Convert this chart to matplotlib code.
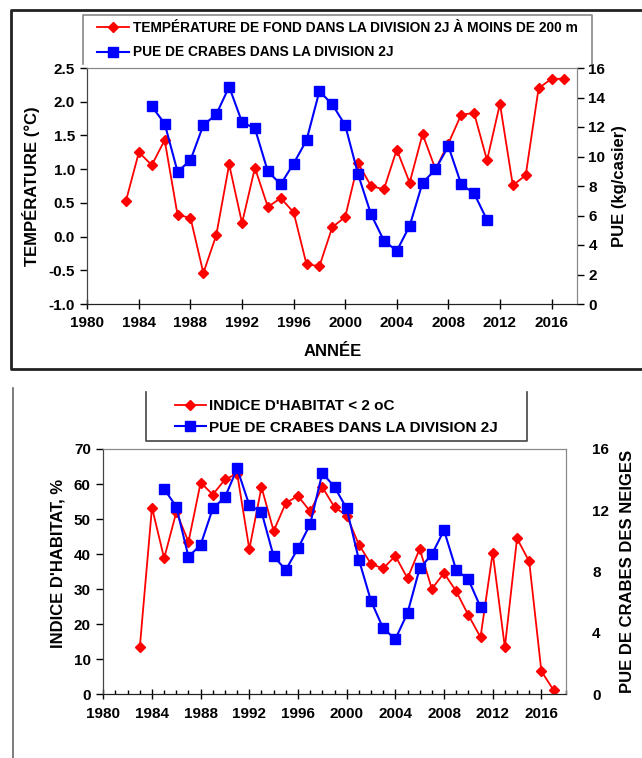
import matplotlib
matplotlib.use('Agg')
import matplotlib.pyplot as plt
from matplotlib.lines import Line2D
from matplotlib.ticker import MultipleLocator

plt.rcParams['font.family'] = ['Liberation Sans', 'DejaVu Sans']
plt.rcParams['font.weight'] = 'bold'

# données
annees_temp = list(range(1983, 2018))
temperature = [0.53, 1.25, 1.06, 1.43, 0.32, 0.28, -0.54, 0.02, 1.07, 0.20,
               1.02, 0.44, 0.57, 0.36, -0.41, -0.44, 0.14, 0.29, 1.09, 0.75,
               0.70, 1.29, 0.80, 1.52, 1.00, 1.38, 1.81, 1.83, 1.13, 1.97,
               0.76, 0.91, 2.20, 2.34, 2.34]

annees_pue = list(range(1985, 2012))
pue = [13.40, 12.23, 8.97, 9.75, 12.13, 12.85, 14.73, 12.33, 11.90, 8.99,
       8.12, 9.52, 11.10, 14.43, 13.53, 12.12, 8.79, 6.09, 4.30, 3.60,
       5.30, 8.22, 9.12, 10.70, 8.11, 7.50, 5.69]

annees_hab = list(range(1983, 2018))
habitat = [13.4, 53.3, 38.8, 52.0, 43.5, 60.4, 57.0, 61.3, 63.0, 41.4,
           59.1, 46.6, 54.6, 56.6, 52.2, 59.1, 53.4, 51.0, 42.7, 37.2,
           35.9, 39.5, 33.1, 41.5, 30.1, 34.6, 29.4, 22.6, 16.3, 40.4,
           13.4, 44.5, 37.9, 6.6, 1.2]

lab_temp = 'TEMPÉRATURE DE FOND DANS LA DIVISION 2J À MOINS DE 200 m'
lab_pue = 'PUE DE CRABES DANS LA DIVISION 2J'
lab_hab = "INDICE D'HABITAT < 2 oC"

W, H = 642, 758
fig = plt.figure(figsize=(W / 100, H / 100), dpi=100)
fig.patch.set_facecolor('white')


def fx(x):
    return x / W


def fy(y):
    return 1 - y / H


def style_axes(ax, ax2):
    for a in (ax, ax2):
        a.spines['top'].set_color('#888888')
        a.spines['right'].set_color('#888888')
        a.spines['left'].set_color('#444444')
        a.spines['bottom'].set_color('#222222')
    ax.tick_params(axis='y', direction='out', length=5, width=1, pad=4, labelsize=11)


# ---- graphique du haut ----
ax1 = fig.add_axes([fx(87.3), fy(304), fx(577.3 - 87.3), (304 - 68) / H])
l1, = ax1.plot(annees_temp, temperature, color='red', marker='D', markersize=5,
               linewidth=1.3, label=lab_temp)
ax1.set_xlim(1980, 2018)
ax1.set_ylim(-1.0, 2.5)
ax1.yaxis.set_major_locator(MultipleLocator(0.5))
ax1.yaxis.set_major_formatter(matplotlib.ticker.FormatStrFormatter('%.1f'))
ax1.set_xticks(range(1980, 2017, 4))
ax1.tick_params(axis='x', direction='inout', length=7, width=1, pad=5, labelsize=11)
ax1.set_ylabel('TEMPÉRATURE (°C)', fontsize=12, fontweight='bold', labelpad=6)
ax1.set_xlabel('ANNÉE', fontsize=12, fontweight='bold', labelpad=10)

ax2 = ax1.twinx()
l2, = ax2.plot(annees_pue, pue, color='blue', marker='s', markersize=7,
               linewidth=1.5, label=lab_pue)
ax2.set_ylim(0, 16)
ax2.set_yticks(range(0, 17, 2))
ax2.tick_params(axis='y', direction='out', length=5, width=1, pad=3, labelsize=11)
ax2.set_ylabel('PUE (kg/casier)', fontsize=12, fontweight='bold', labelpad=5)
style_axes(ax1, ax2)

fig.legend([l1, l2], [lab_temp, lab_pue], loc='center left',
           bbox_to_anchor=(fx(97), fy(40)), frameon=False, fontsize=9.9,
           handlelength=2.3, handletextpad=0.3, labelspacing=0.8,
           borderpad=0, borderaxespad=0)

# cadre du haut
fig.add_artist(Line2D([fx(83), fx(83), fx(591.7), fx(591.7)],
                      [fy(64), fy(15), fy(15), fy(64)],
                      color='#888888', linewidth=1.2))
fig.add_artist(Line2D([fx(W + 5), fx(11.5), fx(11.5), fx(W + 5)],
                      [fy(10), fy(10), fy(368.5), fy(368.5)],
                      color='#222222', linewidth=2))

# ---- graphique du bas ----
ax3 = fig.add_axes([fx(103.3), fy(694.3), fx(565.7 - 103.3), (694.3 - 449) / H])
l3, = ax3.plot(annees_hab, habitat, color='red', marker='D', markersize=5,
               linewidth=1.3, label=lab_hab)
ax3.set_xlim(1980, 2018)
ax3.set_ylim(0, 70)
ax3.set_yticks(range(0, 71, 10))
ax3.set_xticks(range(1980, 2017, 4))
ax3.xaxis.set_minor_locator(MultipleLocator(1))
ax3.tick_params(axis='x', which='major', direction='inout', length=7, width=1,
                pad=6, labelsize=11)
ax3.tick_params(axis='x', which='minor', direction='in', length=3, width=1)
ax3.set_ylabel("INDICE D'HABITAT, %", fontsize=12, fontweight='bold', labelpad=6)
ax3.yaxis.label.set_y(0.535)

ax4 = ax3.twinx()
l4, = ax4.plot(annees_pue, pue, color='blue', marker='s', markersize=7,
               linewidth=1.5, label=lab_pue)
ax4.set_ylim(0, 16)
ax4.set_yticks(range(0, 17, 4))
ax4.tick_params(axis='y', length=0, pad=19, labelsize=11)
ax4.set_ylabel('PUE DE CRABES DES NEIGES', fontsize=12, fontweight='bold', labelpad=8)
style_axes(ax3, ax4)

fig.legend([l3, l4], [lab_hab, lab_pue], loc='center left',
           bbox_to_anchor=(fx(175), fy(416.7)), frameon=False, fontsize=11,
           handlelength=2.0, handletextpad=0.2, labelspacing=0.5,
           borderpad=0, borderaxespad=0)

fig.add_artist(Line2D([fx(146), fx(146), fx(527), fx(527)],
                      [fy(392), fy(441), fy(441), fy(392)],
                      color='#444444', linewidth=1.2))
fig.add_artist(Line2D([fx(12.7), fx(12.7)], [fy(388), fy(H + 5)],
                      color='#666666', linewidth=1.2))

fig.savefig('out.png', dpi=100, facecolor='white')
